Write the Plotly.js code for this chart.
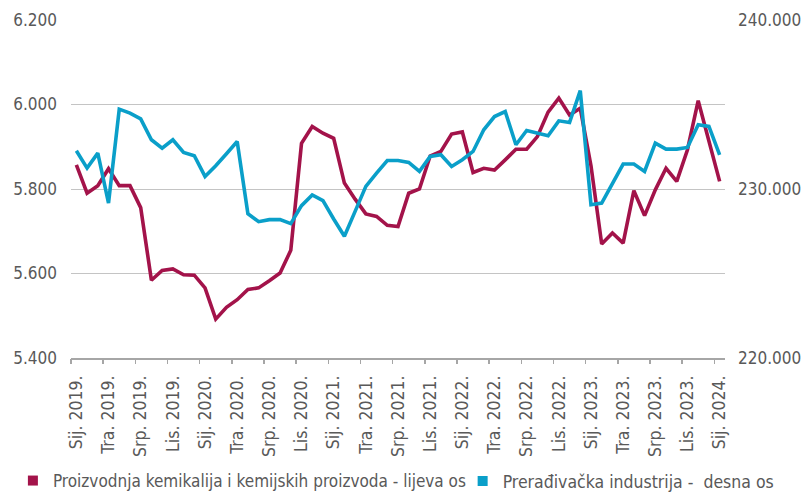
<!DOCTYPE html>
<html><head><meta charset="utf-8">
<script src="https://cdn.plot.ly/plotly-3.0.1.min.js"></script>
<style>html,body{margin:0;padding:0;background:#fff}#chart{width:806px;height:492px}</style>
</head><body><div id="chart"></div>
<script>
const tickLabels = ["Sij. 2019.","Tra. 2019.","Srp. 2019.","Lis. 2019.","Sij. 2020.","Tra. 2020.","Srp. 2020.","Lis. 2020.","Sij. 2021.","Tra. 2021.","Srp. 2021.","Lis. 2021.","Sij. 2022.","Tra. 2022.","Srp. 2022.","Lis. 2022.","Sij. 2023.","Tra. 2023.","Srp. 2023.","Lis. 2023.","Sij. 2024."];
const seriesNames = ["Proizvodnja kemikalija i kemijskih proizvoda - lijeva os", "Prerađivačka industrija -\u00a0 desna os"];
// monthly, Jan 2019 - Jan 2024
const chemicals = [5857,5790,5808,5848,5808,5808,5756,5584,5607,5611,
  5597,5596,5566,5492,5520,5538,5562,5566,5583,5601,
  5655,5908,5948,5932,5920,5814,5776,5741,5735,5714,
  5711,5790,5800,5878,5889,5930,5935,5839,5849,5845,
  5869,5894,5894,5924,5982,6015,5975,5991,5855,5670,
  5696,5672,5796,5737,5798,5849,5818,5893,6009,5912,5818];
const manufacturing = [232262,231238,232124,229170,234723,234487,234152,232912,232420,232912,
  232162,231967,230744,231376,232085,232812,228540,228068,228186,228186,
  227950,229013,229645,229308,228227,227200,228677,230153,230944,231689,
  231689,231571,231040,231925,232025,231335,231730,232222,233502,234288,
  234583,232616,233461,233307,233148,234034,233934,235824,229072,229170,
  230350,231476,231476,231040,232717,232362,232362,232460,233798,233700,232025];

const RED = '#A3134A', BLUE = '#0A9FC9', TXT = '#595959', AX = '#A6A6A6';
const FONT = '"DejaVu Sans Condensed", "DejaVu Sans", sans-serif';
const xs = chemicals.map((_, i) => i);
const xRange = [-0.5, chemicals.length - 0.5];

const traces = [
  {x: xs, y: chemicals, type: 'scatter', mode: 'lines', line: {color: RED, width: 3.6}, yaxis: 'y', showlegend: false, hoverinfo: 'skip'},
  {x: xs, y: manufacturing, type: 'scatter', mode: 'lines', line: {color: BLUE, width: 3.6}, yaxis: 'y2', showlegend: false, hoverinfo: 'skip'},
  {x: [null], y: [null], type: 'scatter', mode: 'markers', name: seriesNames[0], marker: {symbol: 'square', size: 10, color: RED}, xaxis: 'x2', legend: 'legend'},
  {x: [null], y: [null], type: 'scatter', mode: 'markers', name: seriesNames[1], marker: {symbol: 'square', size: 10, color: BLUE}, xaxis: 'x2', yaxis: 'y2', legend: 'legend2'}
];

const layout = {
  width: 806, height: 492,
  margin: {l: 71, r: 81, t: 20, b: 134},
  paper_bgcolor: '#fff', plot_bgcolor: '#fff',
  separators: ',.',
  font: {family: FONT, color: TXT, size: 17},
  xaxis: {
    range: xRange, tickmode: 'array',
    tickvals: tickLabels.map((_, k) => k * 3), ticktext: tickLabels,
    tickangle: -90, ticks: '', showgrid: false, zeroline: false,
    showline: true, linecolor: AX, linewidth: 1.5,
    tickfont: {size: 17.5, color: TXT, family: FONT}, ticklabelstandoff: 9
  },
  xaxis2: {
    overlaying: 'x', anchor: 'y', side: 'bottom', range: xRange, tickmode: 'array',
    tickvals: tickLabels.map((_, k) => k * 3 - 0.5), showticklabels: false,
    ticks: 'outside', ticklen: 5, tickwidth: 1.5, tickcolor: AX,
    showgrid: false, zeroline: false, showline: false
  },
  yaxis: {
    range: [5400, 6200], dtick: 200, tickformat: ',d', showgrid: true, gridcolor: '#C4C4C4', gridwidth: 1,
    zeroline: false, showline: false, ticks: '', tickfont: {size: 17, color: TXT, family: FONT}, ticklabelstandoff: 13
  },
  yaxis2: {
    range: [220000, 240000], dtick: 10000, tickformat: ',d', overlaying: 'y', side: 'right', showgrid: false,
    zeroline: false, showline: false, ticks: '', tickfont: {size: 17, color: TXT, family: FONT}, ticklabelstandoff: 12
  },
  legend: {orientation: 'h', xref: 'container', yref: 'container', x: 0.016, y: 1 - 481/492, xanchor: 'left', yanchor: 'middle',
    font: {size: 17, color: TXT, family: FONT}, bgcolor: 'rgba(0,0,0,0)'},
  legend2: {orientation: 'h', xref: 'container', yref: 'container', x: 0.574, y: 1 - 481/492, xanchor: 'left', yanchor: 'middle',
    font: {size: 17.5, color: TXT, family: FONT}, bgcolor: 'rgba(0,0,0,0)'}
};

Plotly.newPlot('chart', traces, layout, {staticPlot: true, displayModeBar: false});
</script>
</body></html>
